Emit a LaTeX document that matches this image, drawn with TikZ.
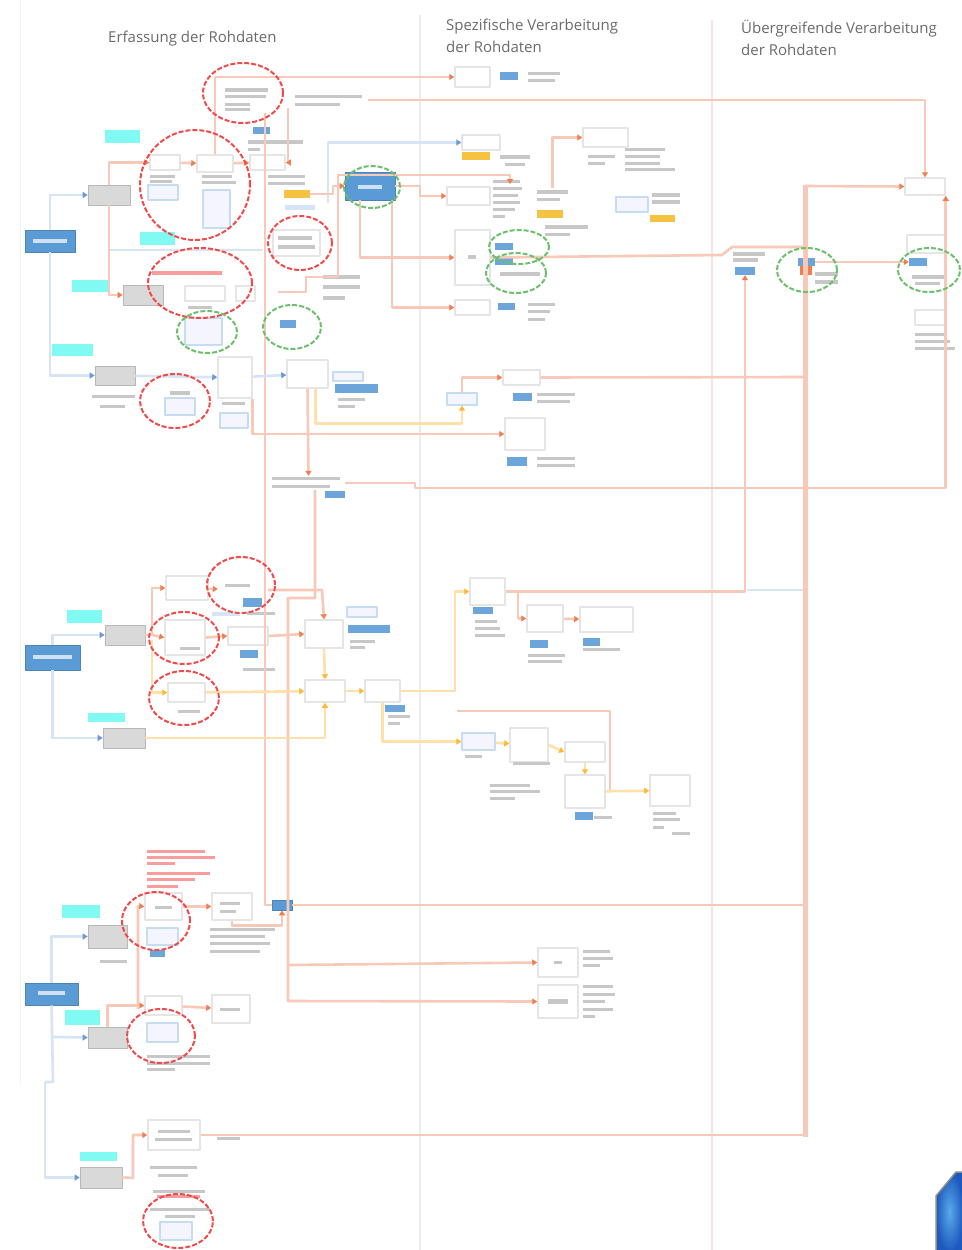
\documentclass[tikz,border=0pt]{standalone}
\usepackage{fontspec}
\newfontfamily\hf{Open Sans}
\usetikzlibrary{arrows.meta,fit,calc}
\definecolor{obl}{HTML}{F8C9B8}
\definecolor{oar}{HTML}{F07E4F}
\definecolor{ylw}{HTML}{FFE0A8}
\definecolor{yar}{HTML}{FFB830}
\definecolor{lbl}{HTML}{D6E4F5}
\definecolor{bar}{HTML}{6A9BD8}
\definecolor{bluebx}{HTML}{5B9BD5}
\definecolor{gbx}{HTML}{D9D9D9}
\definecolor{cyanl}{HTML}{80FAF3}
\definecolor{redc}{HTML}{F24A4A}
\definecolor{grnc}{HTML}{6CC06C}
\definecolor{ytg}{HTML}{F5C242}
\definecolor{sepg}{HTML}{E6F0E8}
\definecolor{sepp}{HTML}{F3E6E2}
\definecolor{icin}{HTML}{5AAAEB}
\definecolor{icout}{HTML}{1E5ABE}
\newcommand{\bx}[6]{\node[#1,fit={(#3,#4) (#5,#6)},inner sep=0pt] (#2) {};}
\newcommand{\tl}[4]{\fill[black!22] (#1,#2) rectangle (#3,#4);}
\newcommand{\rtl}[4]{\fill[redc!55] (#1,#2) rectangle (#3,#4);}
\begin{document}
\begin{tikzpicture}[x=1pt,y=-1pt,line join=round,
  ol/.style={draw=obl,line width=2.6pt},
  olt/.style={draw=obl,line width=5pt},
  oa/.style={ol,-{Triangle[length=5pt,width=6pt,color=oar]}},
  yl/.style={draw=ylw,line width=2.6pt},
  ya/.style={yl,-{Triangle[length=5pt,width=6pt,color=yar]}},
  bl/.style={draw=lbl,line width=2.6pt},
  ba/.style={bl,-{Triangle[length=5pt,width=6pt,color=bar]}},
  wbox/.style={draw=black!10,fill=white,line width=1.5pt},
  gbox/.style={draw=gbx!85!black,fill=gbx,line width=0.6pt},
  bbox/.style={draw=bluebx!85!black,fill=bluebx,line width=0.8pt},
  btag/.style={fill=bluebx!90},
  ytag/.style={fill=ytg},
  cyl/.style={fill=cyanl},
  bbord/.style={draw=bluebx!35,fill=blue!4,line width=1.2pt},
  redl/.style={draw=redc,line width=2pt,dash pattern=on 5pt off 2pt},
  grnl/.style={draw=grnc,line width=2pt,dash pattern=on 5pt off 2pt},
  hdr/.style={font=\hf\fontsize{15}{22}\selectfont,text=black!58,inner sep=0pt}]
\fill[white] (0,0) rectangle (961,1250);
\useasboundingbox (0,0) rectangle (961,1250);
% column separators
\draw[black!5,line width=1pt] (20,0) -- (20,1085);
\draw[sepg,line width=2.5pt] (420,15) -- (420,1250);
\draw[sepp,line width=2.5pt] (712,20) -- (712,1250);
% headers
\node[hdr,anchor=west] (h1) at (108,39) {Erfassung der Rohdaten};
\node[hdr,anchor=north west,align=left] (h2) at (446,19) {Spezifische Verarbeitung\\der Rohdaten};
\node[hdr,anchor=north west,align=left] (h3) at (741,20) {Übergreifende Verarbeitung\\der Rohdaten};

% ================= SECTION 1 =================
\bx{bbox}{A1}{25}{230}{75}{252}
\fill[white!70!bluebx] (33,239) rectangle (67,243);
\bx{gbox}{G1}{88}{185}{130}{205}
\bx{gbox}{G2}{123}{285}{163}{305}
\bx{gbox}{G3}{95}{366}{135}{385}
\bx{cyl}{C1}{105}{130}{140}{143}
\bx{cyl}{C2}{140}{232}{175}{245}
\bx{cyl}{C3}{72}{280}{108}{292}
\bx{cyl}{C4}{52}{344}{93}{356}
\bx{wbox}{T1}{455}{67}{490}{87}
\bx{btag}{T1tag}{500}{72}{518}{80}
\tl{528}{72}{560}{75}\tl{528}{79}{555}{82}
\bx{draw=none}{N1}{220}{85}{272}{113}
\tl{225}{88}{268}{92}\tl{225}{95}{266}{98}\tl{225}{103}{250}{106}\tl{225}{108}{250}{111}
\bx{draw=none}{N1t}{295}{93}{368}{107}
\tl{295}{95}{362}{98}\tl{295}{103}{340}{106}
\bx{btag}{N1tag}{253}{127}{270}{134}
\tl{248}{140}{303}{144}\tl{248}{148}{260}{151}
\bx{wbox}{R1}{150}{155}{180}{170}
\bx{wbox}{R2}{197}{155}{233}{172}
\bx{wbox}{R3}{250}{155}{285}{170}
\tl{150}{175}{175}{178}\tl{150}{180}{172}{183}
\bx{bbord}{R1b}{148}{185}{178}{200}
\tl{202}{175}{232}{178}\tl{202}{181}{236}{184}
\bx{bbord}{R2b}{203}{190}{230}{228}
\tl{268}{175}{305}{178}\tl{268}{182}{305}{185}
\bx{ytag}{Y1}{284}{190}{310}{198}
\fill[lbl] (285,205) rectangle (315,210);
\bx{bbox}{GR}{345}{172}{395}{200}
\fill[white!70!bluebx] (358,185) rectangle (382,189);
\bx{wbox}{Z1}{273}{230}{320}{256}
\tl{278}{236}{312}{240}\tl{278}{245}{315}{249}
\tl{323}{275}{360}{279}\tl{323}{285}{360}{289}\tl{323}{296}{345}{300}
\rtl{152}{271}{222}{275}
\bx{wbox}{Z2}{185}{286}{225}{301}
\bx{wbox}{Z3}{236}{286}{255}{301}
\tl{188}{306}{212}{309}
\bx{bbord}{Z4}{185}{318}{222}{345}
\bx{btag}{Z5}{280}{320}{296}{328}
% right of Group
\bx{wbox}{P1}{462}{135}{500}{150}
\bx{ytag}{P1t}{462}{152}{490}{160}
\tl{500}{155}{530}{159}\tl{505}{163}{525}{166}
\bx{wbox}{P2}{583}{128}{628}{147}
\tl{588}{155}{615}{158}\tl{588}{162}{605}{165}
\tl{625}{148}{665}{151}\tl{625}{155}{660}{158}\tl{625}{162}{660}{165}\tl{625}{168}{675}{171}
\bx{wbox}{P3}{447}{187}{490}{205}
\tl{493}{180}{520}{183}\tl{493}{187}{522}{190}\tl{493}{194}{518}{197}\tl{493}{201}{520}{204}\tl{493}{208}{515}{211}\tl{493}{215}{505}{218}
\bx{draw=none}{P4t}{537}{188}{568}{203}
\tl{537}{190}{568}{194}\tl{537}{198}{560}{201}
\bx{ytag}{P4}{537}{210}{563}{218}
\bx{bbord}{P5}{616}{197}{648}{212}
\tl{652}{193}{680}{197}\tl{652}{200}{680}{204}
\bx{ytag}{P5t}{650}{215}{675}{222}
\tl{545}{225}{588}{229}\tl{545}{233}{570}{236}
\bx{wbox}{P6}{455}{230}{490}{285}
\tl{468}{255}{476}{259}
\bx{btag}{P6a}{495}{243}{513}{250}
\bx{btag}{P6b}{495}{258}{513}{265}
\tl{500}{272}{540}{276}
\bx{wbox}{P7}{455}{300}{490}{315}
\bx{btag}{P7t}{498}{303}{515}{310}
\tl{528}{303}{555}{306}\tl{528}{310}{550}{313}\tl{528}{318}{545}{321}
% right column
\bx{wbox}{Q1}{905}{178}{945}{195}
\bx{wbox}{Q2}{907}{235}{945}{253}
\bx{btag}{Q2tag}{909}{258}{927}{266}
\tl{912}{275}{945}{279}\tl{915}{282}{940}{285}
\bx{wbox}{Q3}{915}{310}{945}{325}
\tl{915}{333}{945}{336}\tl{915}{340}{950}{343}\tl{915}{347}{955}{350}
\tl{733}{252}{765}{256}\tl{733}{258}{758}{262}
\bx{btag}{Q4tag}{735}{267}{755}{275}
\bx{btag}{Q5tag}{798}{258}{815}{266}
\fill[oar] (800,266) rectangle (812,275);
\tl{815}{272}{838}{276}\tl{815}{280}{838}{284}
% lower part section 1
\bx{wbox}{S1}{218}{357}{252}{398}
\tl{222}{402}{245}{405}
\bx{bbord}{S1b}{220}{413}{248}{428}
\tl{92}{395}{135}{398}\tl{100}{405}{125}{408}
\tl{170}{391}{190}{395}
\bx{bbord}{S2}{165}{398}{195}{415}
\bx{wbox}{S3}{287}{360}{328}{388}
\bx{bbord}{S3b}{333}{372}{363}{381}
\bx{btag}{S3t}{335}{384}{378}{393}
\tl{338}{398}{365}{401}\tl{338}{405}{355}{408}
\bx{bbord}{S4}{447}{393}{477}{405}
\bx{wbox}{S5}{503}{370}{540}{385}
\bx{btag}{S5t}{513}{393}{532}{401}
\tl{537}{393}{575}{396}\tl{537}{400}{570}{403}
\bx{wbox}{S6}{505}{418}{545}{450}
\bx{btag}{S6t}{507}{457}{527}{466}
\tl{537}{457}{575}{460}\tl{537}{464}{575}{467}
\bx{draw=none}{S7t}{272}{476}{345}{490}
\tl{272}{477}{340}{480}\tl{272}{485}{330}{488}
\bx{btag}{S7tag}{325}{491}{345}{498}

% ================= SECTION 2 =================
\bx{bbox}{A2}{25}{645}{80}{670}
\fill[white!70!bluebx] (33,655) rectangle (72,659);
\bx{gbox}{G4}{105}{625}{145}{645}
\bx{gbox}{G5}{103}{728}{145}{748}
\bx{cyl}{C5}{67}{610}{102}{623}
\bx{cyl}{C6}{88}{713}{125}{722}
\bx{wbox}{M1}{166}{576}{208}{600}
\bx{draw=none}{M2}{218}{580}{268}{600}
\tl{225}{584}{250}{587}
\bx{btag}{M2t}{243}{598}{262}{607}
\fill[lbl] (212,612) rectangle (240,616);
\tl{247}{612}{275}{615}
\bx{wbox}{M3}{165}{620}{205}{655}
\tl{180}{647}{200}{650}
\bx{wbox}{M4}{228}{627}{268}{645}
\bx{btag}{M4t}{240}{650}{258}{658}
\tl{243}{668}{275}{671}
\bx{wbox}{M5}{168}{683}{205}{702}
\tl{178}{710}{200}{713}
\bx{wbox}{M6}{305}{620}{343}{648}
\bx{bbord}{M6b}{347}{607}{377}{617}
\bx{btag}{M6t}{348}{625}{390}{633}
\tl{350}{640}{375}{643}\tl{350}{646}{365}{649}
\bx{wbox}{M7}{305}{680}{345}{702}
\bx{wbox}{M8}{365}{680}{400}{702}
\bx{btag}{M8t}{385}{705}{405}{712}
\tl{388}{715}{410}{718}\tl{388}{722}{400}{725}
\bx{wbox}{M9}{470}{578}{505}{605}
\bx{btag}{M9t}{473}{607}{493}{614}
\tl{475}{620}{497}{623}\tl{475}{627}{500}{630}\tl{475}{634}{505}{637}
\bx{wbox}{M10}{527}{605}{563}{632}
\bx{btag}{M10t}{530}{640}{548}{648}
\tl{528}{654}{565}{657}\tl{528}{660}{562}{663}
\bx{wbox}{M11}{580}{607}{633}{632}
\bx{btag}{M11t}{583}{638}{600}{646}
\tl{583}{648}{620}{651}
\bx{bbord}{M12}{462}{733}{495}{750}
\tl{465}{755}{482}{758}
\bx{wbox}{M13}{510}{728}{548}{762}
\tl{513}{762}{550}{765}
\bx{wbox}{M14}{565}{742}{605}{762}
\bx{wbox}{M15}{565}{775}{605}{808}
\bx{btag}{M15t}{575}{812}{593}{820}
\tl{594}{816}{612}{819}
\bx{wbox}{M16}{650}{775}{690}{806}
\tl{653}{812}{676}{815}\tl{653}{818}{680}{821}\tl{653}{826}{664}{829}\tl{672}{832}{690}{835}
\tl{490}{784}{530}{787}\tl{490}{790}{540}{793}\tl{490}{797}{515}{800}

% ================= SECTION 3 =================
\bx{bbox}{A3}{25}{983}{78}{1005}
\fill[white!70!bluebx] (38,991) rectangle (65,995);
\bx{gbox}{G6}{88}{925}{127}{948}
\bx{gbox}{G7}{88}{1027}{127}{1048}
\bx{gbox}{G8}{80}{1167}{122}{1188}
\bx{cyl}{C7}{62}{905}{100}{918}
\bx{cyl}{C8}{65}{1010}{100}{1025}
\bx{cyl}{C9}{80}{1152}{117}{1161}
\rtl{147}{850}{205}{853}\rtl{147}{856}{215}{859}\rtl{147}{862}{175}{865}
\rtl{147}{872}{210}{875}\rtl{147}{878}{195}{881}\rtl{147}{885}{178}{888}
\bx{wbox}{B1}{145}{893}{182}{920}
\tl{155}{906}{172}{909}
\bx{bbord}{B1b}{147}{928}{178}{945}
\bx{btag}{B1t}{150}{950}{165}{957}
\tl{100}{960}{127}{963}
\bx{wbox}{B2}{212}{893}{252}{920}
\tl{220}{902}{240}{905}\tl{220}{910}{236}{913}
\tl{210}{928}{275}{931}\tl{210}{935}{265}{938}\tl{210}{942}{270}{945}\tl{210}{950}{260}{953}
\bx{bbox}{J1}{272}{900}{292}{910}
\bx{wbox}{B3}{145}{996}{182}{1015}
\bx{bbord}{B3b}{147}{1023}{178}{1042}
\tl{147}{1055}{210}{1058}\tl{147}{1062}{210}{1065}\tl{147}{1068}{175}{1071}
\bx{wbox}{B4}{212}{995}{250}{1023}
\tl{220}{1008}{240}{1011}
\bx{wbox}{B5}{148}{1120}{200}{1150}
\tl{158}{1130}{190}{1133}\tl{155}{1138}{192}{1141}
\tl{217}{1137}{240}{1140}
\tl{150}{1166}{197}{1169}\tl{158}{1174}{188}{1177}
\tl{153}{1190}{205}{1193}\rtl{157}{1195}{200}{1198}
\tl{150}{1208}{210}{1211}\tl{165}{1215}{195}{1218}
\bx{bbord}{B5b}{160}{1222}{192}{1240}
\bx{wbox}{B6}{538}{948}{578}{977}
\tl{554}{961}{562}{964}
\tl{583}{950}{610}{953}\tl{583}{957}{613}{960}\tl{583}{964}{600}{967}
\bx{wbox}{B7}{538}{985}{578}{1018}
\tl{548}{999}{568}{1004}
\tl{583}{985}{613}{988}\tl{583}{993}{615}{996}\tl{583}{1000}{605}{1003}\tl{583}{1008}{613}{1011}\tl{583}{1015}{595}{1018}

% ================= CONNECTORS =================
% section 1
\draw[ba] (A1.north) |- (G1.west);
\draw[ba] (A1.south) |- (G3.west);
\draw[bl] (110,250) -- (263,250);
\draw[oa] (G1.north) |- (R1.west);
\draw[oa] (G1.south) |- (G2.west);
\draw[oa] (R1) -- (R2);
\draw[oa] (R2) -- (R3);
\draw[oa] (R2.north) |- (T1.west);
\draw[oa] (N1t.east) -| (Q1.north);
\coordinate (k1) at (265,113);
\draw[ol] (k1) |- (J1.west);
\coordinate (k2) at (288,108);
\draw[oa] (k2) |- (R3.east);
\coordinate (k3) at (328,203);
\draw[ba] (k3) |- (P1.west);
\draw[oa] (Y1.east) -| (333,186) -- (GR.west);
\coordinate (k4) at (338,277);
\draw[oa] (k4) -- (338,175) -- (510,175) -- (510,184);
\draw[ol] (k4) -- (306,277) -- (306,292) -- (278,292);
\draw[oa] (GR.east) -- (420,186) |- (P3.west);
\draw[oa] ([xshift=-10pt]GR.south) |- (P6.west);
\draw[oa] ([xshift=22pt]GR.south) |- (P7.west);
\draw[oa] (P4t.north) |- (P2.west);
\draw[ol] (P6.east) -- (722,255) -- (732,247) -- (805,247);
\draw[oa] (Q5tag.east) -- (Q2tag.west);
\draw[ba] (G3) -- (S1);
\draw[ba] (S1) -- (S3);
\draw[oa] (S1.south east) |- (S6.west);
\draw[oa] (S3.south) -- (S7t.north);
\draw[ya] ([xshift=8pt]S3.south) -- ++(0,35) -| (S4.south);
\draw[oa] (S4.north) |- (S5.west);
\draw[ol] (S5.east) -- (805,377);
\draw[oa] (S7t.east) -- (415,483) -- (415,488) -| (Q1.south east);
% section 2
\draw[ba] (A2.north) |- (G4.west);
\draw[ba] (A2.south) |- (G5.west);
\draw[ol] (G4.east) -- (152,635);
\draw[oa] (152,635) |- (M1.west);
\draw[oa] (152,635) -- (M3.west);
\draw[ya] (152,640) |- (M5.west);
\draw[oa] (M1) -- (M2);
\draw[oa] (M2.east) -- (322,590) -- (M6.north);
\draw[oa] (M3.east) -- (M4.west);
\draw[oa] (M4.east) -- (M6.west);
\coordinate (k5) at (315,490);
\draw[oa] (k5) -- (315,598) -- (288,598) -- (288,1001) -- (B7.west);
\coordinate (k6) at (288,965);
\draw[oa] (k6) -- (B6.west);
\draw[ya] (M5) -- (M7);
\draw[ya] (G5.east) -| (M7.south);
\draw[ya] (M6.south) -- (M7.north);
\draw[ya] (M7) -- (M8);
\draw[ya] (M8.east) -- (455,691) |- (M9.west);
\draw[ya] (M8.south) |- (M12.west);
\draw[ya] (M12) -- (M13);
\draw[ya] (M13.east) -- (M14.west);
\draw[ya] (M14.south) -- (M15.north);
\draw[ya] (M15) -- (M16);
\coordinate (k7) at (457,711);
\draw[ol] (k7) -| (610,790);
\draw[oa] (M9.east) -| (Q4tag.south);
\draw[bl] (747,590) -- (803,590);
\draw[oa] (518,591) |- (M10.west);
\draw[oa] (M10) -- (M11);
% section 3
\draw[ba] (A3.north) |- (G6.west);
\draw[bl] (A3.south) -- (53,1082) -- (45,1082);
\draw[ba] (45,1082) |- (G8.west);
\draw[ba] (53,1037) -- (G7.west);
\draw[oa] (G7.north) |- (B3.west);
\coordinate (k8) at (138,1009);
\draw[oa] (k8) -- (138,906) -- (B1.west);
\draw[oa] (B3) -- (B4);
\draw[oa] (B1) -- (B2);
\draw[oa] (B2.south) -- ++(0,5) -| (J1.south);
\draw[oa] (G8.east) -- (133,1178) |- (B5.west);
\draw[ol] (B5.east) -- (805,1135);
\draw[olt] (805,1137) -- (805,185);
\draw[oa] (805,186) -- (Q1.west);
\draw[ol] (J1.east) -- (803,905);

% ================= ANNOTATION ELLIPSES =================
\draw[redl] (243,93) ellipse [x radius=40pt, y radius=30pt];
\draw[redl] (195,185) ellipse [x radius=55pt, y radius=55pt];
\draw[redl] (200,283) ellipse [x radius=52pt, y radius=35pt];
\draw[redl] (300,243) ellipse [x radius=32pt, y radius=27pt];
\draw[redl] (175,401) ellipse [x radius=35pt, y radius=27pt];
\draw[redl] (241,585) ellipse [x radius=34pt, y radius=28pt];
\draw[redl] (184,638) ellipse [x radius=35pt, y radius=26pt];
\draw[redl] (184,698) ellipse [x radius=35pt, y radius=27pt];
\draw[redl] (156,921) ellipse [x radius=34pt, y radius=29pt];
\draw[redl] (161,1036) ellipse [x radius=34pt, y radius=27pt];
\draw[redl] (178,1221) ellipse [x radius=35pt, y radius=27pt];
\draw[grnl] (372,187) ellipse [x radius=28pt, y radius=21pt];
\draw[grnl] (207,332) ellipse [x radius=30pt, y radius=21pt];
\draw[grnl] (292,327) ellipse [x radius=29pt, y radius=22pt];
\draw[grnl] (519,247) ellipse [x radius=30pt, y radius=17pt];
\draw[grnl] (516,273) ellipse [x radius=30pt, y radius=20pt];
\draw[grnl] (807,270) ellipse [x radius=30pt, y radius=22pt];
\draw[grnl] (929,270) ellipse [x radius=31pt, y radius=22pt];

% blue corner icon
\shade[inner color=icin, outer color=icout, draw=black!45, line width=1.5pt]
  (936,1196) -- (956,1172) -- (963,1172) -- (963,1252) -- (936,1252) -- cycle;
\end{tikzpicture}
\end{document}
